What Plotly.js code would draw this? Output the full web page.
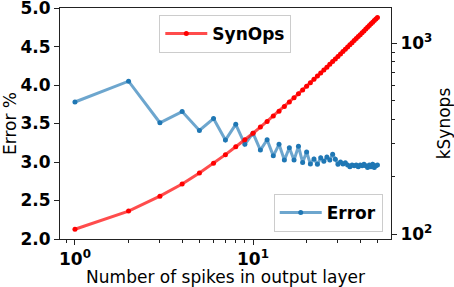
<!DOCTYPE html>
<html>
<head>
<meta charset="utf-8">
<script src="https://cdn.plot.ly/plotly-3.0.1.min.js"></script>
<style>html,body{margin:0;padding:0;background:#fff;}#chart{width:454px;height:287px;}</style>
</head>
<body>
<div id="chart"></div>
<script>
const spikes = [1,2,3,4,5,6,7,8,9,10,11,12,13,14,15,16,17,18,19,20,21,22,23,24,25,26,27,28,29,30,31,32,33,34,35,36,37,38,39,40,41,42,43,44,45,46,47,48,49,50];
const errorPct = [3.78,4.05,3.51,3.655,3.41,3.565,3.285,3.49,3.23,3.375,3.155,3.29,3.08,3.23,3.025,3.185,3.025,3.205,2.995,3.13,2.975,3.04,2.97,3.055,3.01,3.065,3.025,3.10,3.035,2.97,3.0,2.975,2.99,2.96,2.94,2.96,2.95,2.96,2.94,2.96,2.95,2.97,2.95,2.93,2.96,2.94,2.97,2.93,2.95,2.96];
const kSynops = [106,132,158,183,209,235,261,287,312,338,364,390,416,441,467,493,519,545,570,596,622,648,674,699,725,751,777,803,828,854,880,906,932,957,983,1009,1035,1061,1086,1112,1138,1164,1190,1215,1241,1267,1293,1319,1344,1370];
const xTickVals = [1,10];
const xTickText = ['10<sup>0</sup>','10<sup>1</sup>'];
const xMinorVals = [0.9,2,3,4,5,6,7,8,9,20,30,40,50];
const y2TickVals = [100,1000];
const y2TickText = ['10<sup>2</sup>','10<sup>3</sup>'];
const y2MinorVals = [200,300,400,500,600,700,800,900];
const yTickVals = [2.0,2.5,3.0,3.5,4.0,4.5,5.0];
const yTickText = ['2.0','2.5','3.0','3.5','4.0','4.5','5.0'];

const tickFont = {family:'DejaVu Sans', size:17, color:'#000', weight:'bold'};
const titleFont = {family:'DejaVu Sans', size:17, color:'#000'};
const axLine = {showline:true, linecolor:'#222', linewidth:1, showgrid:false, zeroline:false, ticks:'outside', ticklen:5, tickwidth:1, tickcolor:'#222', ticklabeloverflow:'allow'};

const traces = [
  {x:spikes, y:errorPct, name:'Error', type:'scatter', mode:'lines+markers', xaxis:'x', yaxis:'y', legend:'legend2',
   line:{color:'rgba(31,119,180,0.65)', width:3}, marker:{color:'#1f77b4', size:5}},
  {x:spikes, y:kSynops, name:'SynOps', type:'scatter', mode:'lines+markers', xaxis:'x', yaxis:'y2', legend:'legend',
   line:{color:'rgba(255,0,0,0.7)', width:3}, marker:{color:'#ff0000', size:5}}
];

const layout = {
  width:454, height:287, paper_bgcolor:'#fff', plot_bgcolor:'#fff',
  margin:{l:60, r:63, t:8, b:48},
  font:{family:'DejaVu Sans', color:'#000'},
  xaxis:Object.assign({}, axLine, {type:'log', range:[-0.084,1.775], mirror:true,
    tickmode:'array', tickvals:xTickVals, ticktext:xTickText, tickfont:tickFont,
    minor:{tickmode:'array', tickvals:xMinorVals, ticks:'outside', ticklen:3, tickwidth:1, tickcolor:'#222', showgrid:false},
    title:{text:'Number of spikes in output layer', font:titleFont, standoff:4}}),
  yaxis:Object.assign({}, axLine, {range:[2,5.001], mirror:true,
    tickmode:'array', tickvals:yTickVals, ticktext:yTickText, tickfont:tickFont,
    title:{text:'Error %', font:titleFont, standoff:4}}),
  yaxis2:Object.assign({}, axLine, {type:'log', range:[1.974,3.186], overlaying:'y', side:'right',
    tickmode:'array', tickvals:y2TickVals, ticktext:y2TickText, tickfont:tickFont,
    minor:{tickmode:'array', tickvals:y2MinorVals, ticks:'outside', ticklen:3, tickwidth:1, tickcolor:'#222', showgrid:false},
    title:{text:'kSynops', font:titleFont, standoff:10}}),
  legend:{x:0.3, y:0.97, xanchor:'left', yanchor:'top', bgcolor:'rgba(255,255,255,0.8)', bordercolor:'#ccc', borderwidth:1,
    font:{family:'DejaVu Sans', size:17, color:'#000', weight:'bold'}, itemwidth:42},
  legend2:{x:0.975, y:0.03, xanchor:'right', yanchor:'bottom', bgcolor:'rgba(255,255,255,0.8)', bordercolor:'#ccc', borderwidth:1,
    font:{family:'DejaVu Sans', size:17, color:'#000', weight:'bold'}, itemwidth:42},
  showlegend:true
};

Plotly.newPlot('chart', traces, layout, {displayModeBar:false, staticPlot:true});
</script>
</body>
</html>
